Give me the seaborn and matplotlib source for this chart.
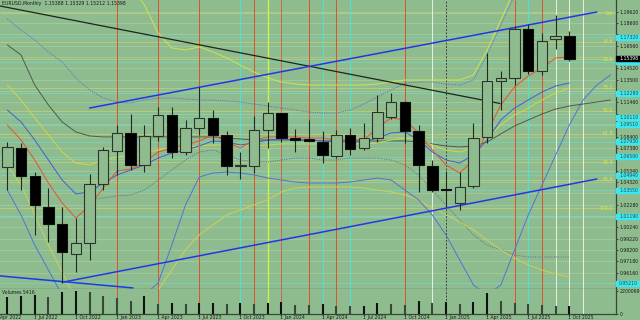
import numpy as np
import matplotlib
matplotlib.use("Agg")
import matplotlib.pyplot as plt
import matplotlib.transforms as mtrans
import seaborn as sns

sns.set_style("white")
plt.rcParams['font.family'] = ['DejaVu Sans']

BG = "#8fbc8f"

# ---------------- data (monthly EURUSD, May 2022 .. Oct 2025) ----------------
months = ["May 2022", "Jun 2022", "Jul 2022", "Aug 2022", "Sep 2022", "Oct 2022", "Nov 2022", "Dec 2022",
          "Jan 2023", "Feb 2023", "Mar 2023", "Apr 2023", "May 2023", "Jun 2023", "Jul 2023", "Aug 2023",
          "Sep 2023", "Oct 2023", "Nov 2023", "Dec 2023", "Jan 2024", "Feb 2024", "Mar 2024", "Apr 2024",
          "May 2024", "Jun 2024", "Jul 2024", "Aug 2024", "Sep 2024", "Oct 2024", "Nov 2024", "Dec 2024",
          "Jan 2025", "Feb 2025", "Mar 2025", "Apr 2025", "May 2025", "Jun 2025", "Jul 2025", "Aug 2025",
          "Sep 2025", "Oct 2025"]
opens = [1.0563, 1.0739, 1.0488, 1.0209, 1.0054, 0.9781, 0.9880, 1.0410, 1.0710, 1.0874, 1.0584, 1.0847,
         1.1033, 1.0698, 1.0914, 1.1009, 1.0851, 1.0575, 1.0578, 1.0896, 1.1049, 1.0824, 1.0815, 1.0793,
         1.0668, 1.0854, 1.0739, 1.0829, 1.1013, 1.1147, 1.0892, 1.0578, 1.0365, 1.0240, 1.0395, 1.0833,
         1.1341, 1.1368, 1.1803, 1.1429, 1.1716, 1.1746]
highs = [1.0793, 1.0784, 1.0521, 1.0375, 1.0204, 1.0105, 1.0503, 1.0748, 1.0943, 1.1042, 1.0943, 1.1103,
         1.1103, 1.0990, 1.1288, 1.1078, 1.0892, 1.0703, 1.1024, 1.1153, 1.1055, 1.0907, 1.0988, 1.0892,
         1.0896, 1.0914, 1.0959, 1.1213, 1.1228, 1.1160, 1.0943, 1.0629, 1.0530, 1.0524, 1.0959, 1.1588,
         1.1431, 1.1830, 1.1851, 1.1768, 1.1932, 1.1791]
lows = [1.0359, 1.0359, 0.9955, 0.9895, 0.9526, 0.9625, 0.9730, 1.0359, 1.0494, 1.0539, 1.0524, 1.0800,
        1.0644, 1.0674, 1.0850, 1.0779, 1.0494, 1.0455, 1.0515, 1.0734, 1.0794, 1.0703, 1.0800, 1.0605,
        1.0650, 1.0674, 1.0719, 1.0788, 1.1000, 1.0779, 1.0339, 1.0340, 1.0209, 1.0180, 1.0380, 1.0780,
        1.1078, 1.1300, 1.1400, 1.1390, 1.1626, 1.1521]
closes = [1.0743, 1.0488, 1.0224, 1.0054, 0.9802, 0.9880, 1.0410, 1.0719, 1.0874, 1.0584, 1.0847, 1.1033,
          1.0698, 1.0914, 1.1009, 1.0851, 1.0575, 1.0581, 1.0896, 1.1049, 1.0824, 1.0809, 1.0802, 1.0674,
          1.0854, 1.0725, 1.0829, 1.1058, 1.1147, 1.0892, 1.0584, 1.0359, 1.0362, 1.0383, 1.0824, 1.1341,
          1.1363, 1.1803, 1.1431, 1.1701, 1.1746, 1.15398]
volumes = [1666000, 1760000, 1791000, 1603000, 2074000, 2200069, 2106000, 1760000, 1509000, 1289000,
           1697000, 911000, 1037000, 943000, 1006000, 1100000, 943000, 1037000, 974000, 1100000, 1131000,
           880000, 849000, 974000, 786000, 723000, 754000, 1006000, 911000, 880000, 1226000, 1069000,
           1194000, 974000, 1163000, 1980000, 1257000, 1069000, 943000, 849000, 754000, 786000]

# indicator lines (one value per month, some shifted forward past the last bar)
nan = float('nan')
red_ma = [1.0944, 1.0809, 1.0629, 1.0422, 1.0243, 1.0108, 1.0216, 1.0377, 1.0530, 1.0548, 1.0602, 1.0701,
          1.0737, 1.0764, 1.0800, 1.0854, 1.0791, 1.0737, 1.0809, 1.0836, 1.0836, 1.0836, 1.0827, 1.0827,
          1.0809, 1.0809, 1.0809, 1.0917, 1.1007, 1.0989, 1.0872, 1.0719, 1.0584, 1.0512, 1.0629, 1.0881,
          1.1123, 1.1285, 1.1384, 1.1456, 1.1546, 1.1555]
blue_ma = [1.1078, 1.0971, 1.0809, 1.0629, 1.0449, 1.0324, 1.0342, 1.0422, 1.0494, 1.0539, 1.0584, 1.0647,
           1.0692, 1.0719, 1.0755, 1.0800, 1.0791, 1.0764, 1.0782, 1.0809, 1.0818, 1.0809, 1.0809, 1.0800,
           1.0791, 1.0791, 1.0791, 1.0827, 1.0872, 1.0881, 1.0809, 1.0701, 1.0629, 1.0602, 1.0674, 1.0809,
           1.0989, 1.1096, 1.1168, 1.1240, 1.1294, 1.1321]
yellow_ma = [1.1303, 1.1168, 1.1007, 1.0854, 1.0701, 1.0602, 1.0584, 1.0629, 1.0656, 1.0674, 1.0692, 1.0719,
             1.0737, 1.0746, 1.0755, 1.0764, 1.0764, 1.0755, 1.0755, 1.0764, 1.0773, 1.0773, 1.0773, 1.0773,
             1.0773, 1.0773, 1.0773, 1.0782, 1.0809, 1.0827, 1.0809, 1.0764, 1.0719, 1.0701, 1.0737, 1.0827,
             1.0944, 1.1033, 1.1096, 1.1168, 1.1231, 1.1276]
gray_ma = [1.1663, 1.1573, 1.1303, 1.1123, 1.0971, 1.0881, 1.0845, 1.0836, 1.0836, 1.0836, 1.0836, 1.0836,
           1.0836, 1.0836, 1.0836, 1.0836, 1.0827, 1.0818, 1.0809, 1.0809, 1.0809, 1.0809, 1.0809, 1.0800,
           1.0800, 1.0800, 1.0800, 1.0800, 1.0800, 1.0800, 1.0791, 1.0773, 1.0755, 1.0746, 1.0755, 1.0791,
           1.0863, 1.0935, 1.0989, 1.1042, 1.1087, 1.1114, 1.1132, 1.1150, 1.1168]
upper_band = [1.1896, 1.1797, 1.1708, 1.1600, 1.1510, 1.1366, 1.1258, 1.1186, 1.1150, 1.1141, 1.1168, 1.1186,
              1.1186, 1.1177, 1.1168, 1.1168, 1.1159, 1.1150, 1.1132, 1.1114, 1.1096, 1.1078, 1.1060, 1.1051,
              1.1051, 1.1078, 1.1132, 1.1195, 1.1258, 1.1321, 1.1330, 1.1330, 1.1312, 1.1303, 1.1348, 1.1573,
              1.1842, 1.2112, 1.2247, 1.2337, 1.2382, 1.2382]
lower_band = [1.0359, 1.0135, 0.9865, 0.9640, 0.9416, 0.9236, 0.9236, 0.9326, 0.9371, 0.9371, 0.9416, 0.9524,
              0.9865, 1.0225, 1.0476, 1.0512, 1.0521, 1.0512, 1.0494, 1.0467, 1.0449, 1.0431, 1.0422, 1.0422,
              1.0422, 1.0431, 1.0449, 1.0467, 1.0449, 1.0359, 1.0270, 1.0135, 0.9955, 0.9730, 0.9506, 0.9416,
              0.9506, 0.9820, 1.0135, 1.0404, 1.0674, 1.0944, 1.1168, 1.1303, 1.1393]
yellow_upper = [nan, nan, nan, nan, nan, nan, nan, nan, 1.2426, 1.2202, 1.2022, 1.1770, 1.1636, 1.1618, 1.1645,
                1.1600, 1.1546, 1.1483, 1.1420, 1.1366, 1.1330, 1.1312, 1.1303, 1.1303, 1.1303, 1.1303, 1.1303,
                1.1312, 1.1330, 1.1348, 1.1348, 1.1348, 1.1348, 1.1348, 1.1393, 1.1618, 1.1887, 1.2157, 1.2337,
                1.2426, 1.2471, 1.2471]
yellow_lower = [1.0584, 1.0404, 1.0135, 0.9865, 0.9623, 0.9371, 0.9281, 0.9191, 0.9191, 0.9236, 0.9326, 0.9461,
                0.9640, 0.9820, 0.9955, 1.0045, 1.0135, 1.0180, 1.0225, 1.0270, 1.0342, 1.0377, 1.0386, 1.0386,
                1.0386, 1.0386, 1.0377, 1.0359, 1.0342, 1.0315, 1.0270, 1.0198, 1.0135, 1.0072, 1.0000, 0.9910,
                0.9820, 0.9748, 0.9685, 0.9640, 0.9605, 0.9578]
gray_dotted = [nan, nan, nan, nan, nan, nan, 1.0270, 1.0288, 1.0306, 1.0315, 1.0359, 1.0449, 1.0539, 1.0629,
               1.0701, 1.0719, 1.0674, 1.0629, 1.0611, 1.0611, 1.0629, 1.0647, 1.0647, 1.0629, 1.0629, 1.0647,
               1.0647, 1.0647, 1.0629, 1.0584, 1.0494, 1.0359, 1.0225, 1.0090, 0.9955, 0.9865, 0.9820, 0.9775,
               0.9757, 0.9757, 0.9757, 0.9757]

# trend / channel objects: (month index, price) anchor pairs
channel_up_x = [6.0, 43.0]
channel_up_y = [1.1096, 1.1959]
channel_lo_x = [4.0, 43.0]
channel_lo_y = [0.9530, 1.0458]
blue_left_x = [-0.53, 9.17]
blue_left_y = [0.9587, 0.9479]
black_trend_x = [-0.53, 35.94]
black_trend_y = [1.2013, 1.1137]

# vertical line objects (month index, kind)
vline_idx = [8, 11, 14, 17, 18, 19, 20, 22, 23, 24, 25, 29, 31, 32, 37, 38, 39, 40, 41, 42]
vline_kind = ["red", "red", "red", "cyan", "red", "lime", "brown", "red", "cyan", "red", "cyan", "red",
              "white", "dark", "red", "cyan", "red", "white", "white", "white"]

# horizontal level objects (cyan) and Fibonacci levels
cyan_levels = [1.1732, 1.1512, 1.1228, 1.1011, 1.0951, 1.0793, 1.0659, 1.0494, 1.0355, 1.0119, 0.9521]
fib_levels = [0.0, 14.6, 23.6, 38.2, 50.0, 61.8, 76.4, 85.4, 100.0]
fib_high = 1.1949
fib_low = 1.0195

# axis ticks
price_ticks = [0.96160, 0.97180, 0.98200, 0.99220, 1.00240, 1.01260, 1.02280, 1.03300, 1.04320, 1.05340,
               1.06360, 1.07380, 1.08400, 1.09420, 1.10440, 1.11460, 1.12480, 1.13500, 1.14520, 1.15540,
               1.16560, 1.17580, 1.18600, 1.19620]
x_tick_idx = [-1, 2, 5, 8, 11, 14, 17, 20, 23, 26, 29, 32, 35, 38, 41]
x_tick_labels = ["Apr 2022", "1 Jul 2022", "1 Oct 2022", "1 Jan 2023", "1 Apr 2023", "1 Jul 2023",
                 "1 Oct 2023", "1 Jan 2024", "1 Apr 2024", "1 Jul 2024", "1 Oct 2024", "1 Jan 2025",
                 "1 Apr 2025", "1 Jul 2025", "1 Oct 2025"]
header = "EURUSD,Monthly  1.15388 1.15329 1.15212 1.15398"
vol_title = "Volumes 5416"
last_price = 1.15398

# ---------------- figure ----------------
W, H = 640, 320
FS = 3.3
TXT = "#1a1a1a"
YL = (0.94695, 1.20668)
XL = (-0.532, 44.40)
PX_PER_PRICE = 289 / (YL[1] - YL[0])

fig = plt.figure(figsize=(6.4, 3.2), dpi=100, facecolor=BG)
ax = fig.add_axes([0, 1 - 289 / H, 616 / W, 289 / H])
vax = fig.add_axes([0, 1 - 314 / H, 616 / W, 25 / H])
for a in (ax, vax):
    a.set_facecolor(BG)
    a.set_xlim(*XL)
    a.set_xticks([])
    for s in ("top", "left"):
        a.spines[s].set_visible(False)
    for s in ("right", "bottom"):
        a.spines[s].set_color("#3a463a")
        a.spines[s].set_linewidth(0.9)
ax.set_ylim(*YL)

# price axis labels: those hidden under level boxes are not shown
covered = cyan_levels + [last_price]
ax.yaxis.tick_right()
ax.set_yticks(price_ticks)
ax.set_yticklabels(["" if min(abs(t - p) for p in covered) * PX_PER_PRICE < 4.0 else f"{t:.5f}"
                    for t in price_ticks])
ax.tick_params(axis="y", length=1.5, width=0.5, pad=1.2, labelsize=FS, colors=TXT)

vmax = max(volumes)
vax.set_ylim(0, vmax * 25 / 23)
vax.yaxis.tick_right()
vax.set_yticks([0, vmax])
vax.set_yticklabels(["0", str(vmax)])
vax.tick_params(axis="y", length=1.5, width=0.5, pad=1.2, labelsize=FS, colors=TXT)

# grid lines at price ticks
for t in price_ticks:
    ax.axhline(t, color="#a9d2a2", lw=0.45, zorder=1)

# fib lines
bt = mtrans.blended_transform_factory(ax.transAxes, ax.transData)
for lv in fib_levels:
    p = fib_high - lv / 100.0 * (fib_high - fib_low)
    ax.axhline(p, color="#cfd468", lw=0.5, zorder=1.5, alpha=0.9)
    ax.text(613 / 616, p, f"{lv:.1f}", transform=bt, ha="right", va="center", fontsize=FS,
            color="#e4e83a", zorder=9)

# cyan level lines
for p in cyan_levels:
    ax.axhline(p, color="#5ee6e0", lw=0.45, zorder=1.6, alpha=0.8)

# vertical objects
vcol = {"red": "#e0502c", "cyan": "#48e4dc", "lime": "#c8f448", "brown": "#c86a4a",
        "white": "#e6f2e2", "dark": "#3c463c"}
for i, k in zip(vline_idx, vline_kind):
    ls = (0, (2, 1.5)) if k == "dark" else "-"
    lw = 1.0 if k == "lime" else 0.7
    for a in (ax, vax):
        a.axvline(i, color=vcol[k], lw=lw, ls=ls, zorder=2)

# indicator lines
def line(vals, color, ls="-", lw=0.7, z=4):
    v = np.array(vals, dtype=float)
    sns.lineplot(x=np.arange(len(v)), y=v, ax=ax, color=color, linestyle=ls, linewidth=lw,
                 estimator=None, sort=False, legend=False, zorder=z)

line(gray_dotted, "#68788a", ls=(0, (1.2, 1.2)))
line(yellow_upper, "#d2e24a")
line(yellow_lower, "#cfcf52")
line(upper_band, "#5876c4", ls=(0, (1.2, 1.2)))
line(lower_band, "#5572d4")
line(gray_ma, "#4e5a4e")
line(yellow_ma, "#d6d446")
line(blue_ma, "#3f5fd6")
line(red_ma, "#e85034", z=4.5)

# channel and trend objects
ax.plot(black_trend_x, black_trend_y, color="#1e241e", lw=0.9, zorder=4.2)
ax.plot(channel_up_x, channel_up_y, color="#2238e6", lw=1.1, zorder=4.3)
ax.plot(channel_lo_x, channel_lo_y, color="#2238e6", lw=1.1, zorder=4.3)
ax.plot(blue_left_x, blue_left_y, color="#2238e6", lw=1.1, zorder=4.3)

# candles
x = np.arange(len(opens))
o = np.array(opens); h = np.array(highs); l = np.array(lows); c = np.array(closes)
up = c >= o
ax.vlines(x, l, h, color="#222822", lw=0.8, zorder=5)
ax.bar(x[up], (c - o)[up], bottom=o[up], width=0.76, color=BG, edgecolor="#2c342c", linewidth=0.8, zorder=6)
ax.bar(x[~up], (o - c)[~up], bottom=c[~up], width=0.76, color="black", edgecolor="#111111", linewidth=0.8,
       zorder=6)

# volume bars
vol = np.array(volumes)
vcols = ["#101410" if (j == 0 or vol[j] >= vol[j - 1]) else "#384838" for j in range(len(vol))]
vax.vlines(x, 0, vol, colors=vcols, lw=1.5, zorder=5)

# right-axis boxes (a box mostly hidden under the last-price box gets no text)
bh = 5.0 / PX_PER_PRICE
for p in cyan_levels:
    ax.add_patch(plt.Rectangle((1.0, p - bh / 2), 0.04, bh, transform=bt, color="#3ce8f0", clip_on=False,
                               zorder=10))
    if abs(p - last_price) * PX_PER_PRICE > 4.5:
        ax.text(1.005, p, f"{p:.5f}", transform=bt, fontsize=FS, color="#2a4a4a", va="center", ha="left",
                clip_on=False, zorder=11)
ax.add_patch(plt.Rectangle((1.0, last_price - bh / 2), 0.04, bh, transform=bt, color="black", clip_on=False,
                           zorder=12))
ax.text(1.005, last_price, f"{last_price:.5f}", transform=bt, fontsize=FS, color="white", va="center",
        ha="left", clip_on=False, zorder=13)

# texts
ax.text(0.003, 0.995, header, transform=ax.transAxes, fontsize=FS, color=TXT, va="top", ha="left", zorder=12)
vax.text(0.003, 0.97, vol_title, transform=vax.transAxes, fontsize=FS, color=TXT, va="top", ha="left", zorder=12)
xt = mtrans.blended_transform_factory(vax.transData, vax.transAxes)
for i, lab in zip(x_tick_idx, x_tick_labels):
    xi = max(i - 0.08, XL[0] + 0.02)
    vax.text(xi, -0.13, lab, transform=xt, fontsize=FS, color=TXT, va="center", ha="left", clip_on=False)
    if i >= XL[0]:
        vax.plot([i, i], [0, -0.06], transform=xt, color="#3a463a", lw=0.5, clip_on=False)

fig.savefig("out.png", dpi=100, facecolor=BG)
